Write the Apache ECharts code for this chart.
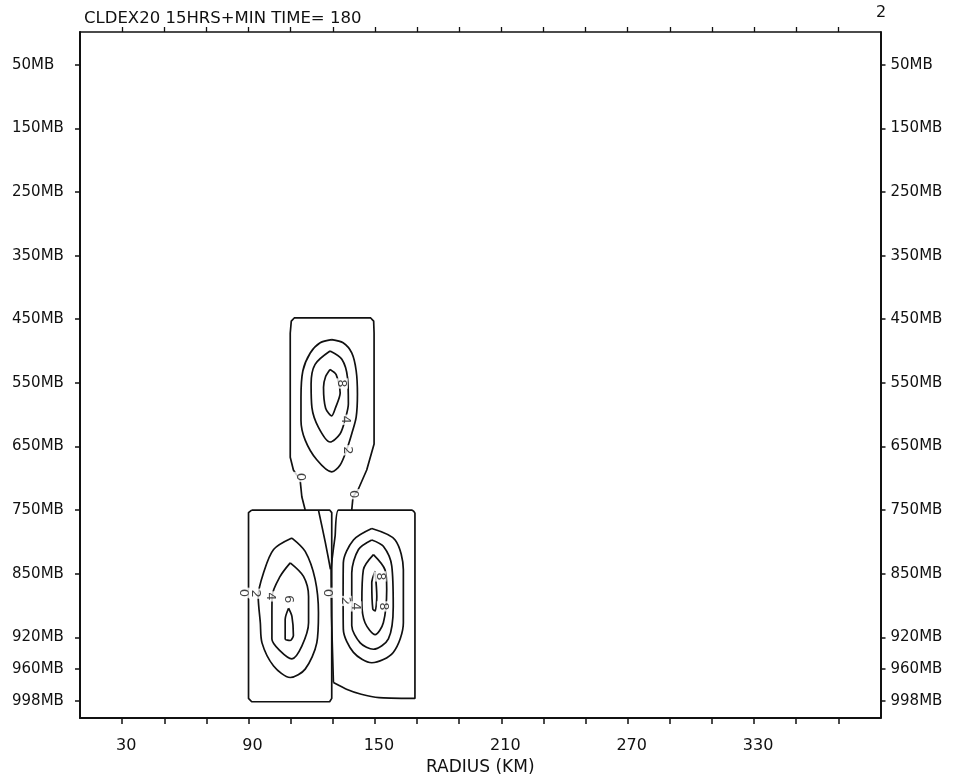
<!DOCTYPE html>
<html>
<head>
<meta charset="utf-8">
<title>CLDEX20 15HRS+MIN TIME= 180</title>
<script src="https://cdn.jsdelivr.net/npm/echarts@6/dist/echarts.min.js"></script>
<style>
  html, body { margin: 0; padding: 0; background: #fff; }
  #chart { width: 963px; height: 781px; }
</style>
</head>
<body>
<div id="chart"></div>
<script>
// Radius axis (km)
const radiusTicks = [30, 50, 70, 90, 110, 130, 150, 170, 190, 210, 230, 250, 270, 290, 310, 330, 350, 370];
const radiusLabels = [30, 90, 150, 210, 270, 330];

// Model pressure levels (mb) and their position on the vertical axis (level index)
const levelMB  = [50, 150, 250, 350, 450, 550, 650, 750, 850, 920, 960, 998];
const levelPos = [0, 1, 2, 3, 4, 5, 6, 7, 8, 9, 9.5, 10];

// Contours: [radius km, pressure mb]
const upper0 = [[116.9,750],[115.3,729],[114.5,703],[111.3,687],[109.8,667],[109.8,472],[110.3,453],[111.7,448],
                [148,448],[149.4,453],[149.6,472],[149.6,646],[146.1,687],[142,718],[139.6,729],[139,750]];
const upper2 = [[129.5,482],[134.9,487],[139.0,503],[141.1,531],[141.7,568],[141.1,604],[139.0,630],[136.7,654],
                [133.5,679],[129.5,690],[122.4,671],[116.9,640],[114.9,609],[114.9,573],[115.8,531],[119.3,503],
                [124.0,487],[129.5,482]];
const upper4 = [[128.7,500],[134.3,513],[137.0,542],[137.4,583],[135.9,607],[133.5,630],[128.7,643],[123.2,620],
                [120.1,589],[119.7,552],[121.6,521],[128.7,500]];
const upper8 = [[128.7,529],[131.6,537],[133.5,566],[131.2,590],[129.5,602],[126.6,590],[125.6,557],[126.6,540],[128.7,529]];

const leftBox0 = [[91.5,750],[128.5,750],[129.5,754],[129.5,995],[128.5,999],[91.5,999],[90,995],[90,754],[91.5,750]];
const left2 = [[110.6,794],[116.9,815],[121.6,856],[123.2,893],[122.4,927],[116.9,960],[109.8,970],[101.9,956],
               [96.4,927],[95.6,904],[94.6,875],[97.1,849],[101.9,812],[110.6,794]];
const left4 = [[109.8,833],[116.1,853],[118.5,875],[118.5,904],[115.3,931],[110.6,947],[105.0,937],[101.1,922],
               [101.1,897],[101.2,875],[105.0,853],[109.8,833]];
const left6 = [[109.0,888],[110.6,897],[111.3,918],[109.8,924],[107.4,922],[107.4,900],[109.0,888]];

const rightBox0 = [[130.3,976],[129.4,897],[129.2,844],[131.1,791],[132.7,750],[167.6,750],[169,755],[169,995],
                   [152,994],[143.5,990],[136.5,984],[130.3,976]];
const notch0 = [[123.2,750],[126.4,800],[128.9,843]];
const right2 = [[148.5,779],[159.6,797],[163.5,844],[163.5,904],[158.7,939],[148.5,952],[139.8,939],[135.0,911],
                [134.9,875],[135.0,833],[139.8,797],[148.5,779]];
const right4 = [[148.5,797],[154.0,807],[158.0,838],[158.7,886],[156.4,922],[149.3,935],[143.0,927],[139.0,907],
                [139.0,886],[139.0,849],[142.2,812],[148.5,797]];
const right6 = [[149.3,820],[154.8,844],[155.6,867],[154.0,904],[150.1,917],[145.3,904],[143.8,882],[144.5,844],[149.3,820]];
const right8 = [[150.1,846],[150.9,875],[150.1,891],[149.0,889],[148.5,860],[150.1,846]];

// Contour labels: [radius km, pressure mb, text]
const contourLabels = [
  [114.5,698,'0'],[139.6,725,'0'],[136.7,656,'2'],[135.9,608,'4'],[134.1,551,'8'],
  [87.6,871,'0'],[93.2,872,'2'],[100.3,875,'4'],[109.0,878,'6'],
  [127.2,871,'0'],[135.9,880,'2'],[140.6,886,'4'],[154.0,886,'8'],[152.4,853,'8']
];

function toLevel(mb) {
  if (mb <= levelMB[0]) return levelPos[0] - (levelMB[0] - mb) / 100;
  const n = levelMB.length;
  if (mb >= levelMB[n - 1]) return levelPos[n - 1] + (mb - levelMB[n - 1]) / 76;
  for (let i = 1; i < n; i++) {
    if (mb <= levelMB[i]) {
      const t = (mb - levelMB[i - 1]) / (levelMB[i] - levelMB[i - 1]);
      return levelPos[i - 1] + t * (levelPos[i] - levelPos[i - 1]);
    }
  }
}

const FONT = '"DejaVu Sans", sans-serif';
const ink = '#111';

const contours = [
  [upper0, 0], [upper2, 0.3], [upper4, 0.3], [upper8, 0.25],
  [leftBox0, 0], [left2, 0.3], [left4, 0.3], [left6, 0.25],
  [rightBox0, 0.15], [notch0, 0.2], [right2, 0.3], [right4, 0.3], [right6, 0.3], [right8, 0.25]
];

const series = contours.map(([pts, sm]) => ({
  type: 'line',
  data: pts.map(p => [p[0], toLevel(p[1])]),
  showSymbol: false,
  smooth: sm,
  silent: true,
  animation: false,
  lineStyle: { color: ink, width: 1.7 }
}));

series.push({
  type: 'scatter',
  data: contourLabels.map(d => ({ value: [d[0], toLevel(d[1])], name: d[2] })),
  symbolSize: 0,
  silent: true,
  animation: false,
  label: {
    show: true,
    position: 'inside',
    formatter: p => p.name,
    rotate: -90,
    color: ink,
    fontFamily: FONT,
    fontSize: 13,
    backgroundColor: '#fff',
    padding: [0, 1]
  },
  z: 5
});

const levelLabel = v => {
  const i = levelPos.indexOf(v);
  return i >= 0 ? levelMB[i] + 'MB' : '';
};

const chart = echarts.init(document.getElementById('chart'), null, { renderer: 'canvas' });
chart.setOption({
  animation: false,
  backgroundColor: '#fff',
  title: {
    text: 'CLDEX20 15HRS+MIN TIME= 180',
    left: 79, top: 5,
    textStyle: { fontFamily: FONT, fontSize: 16.5, fontWeight: 'normal', color: ink }
  },
  graphic: [{
    type: 'text', left: 876, top: 5,
    style: { text: '2', font: '16px ' + FONT, fill: ink }
  }],
  grid: { left: 80, right: 82.5, top: 32, bottom: 58, containLabel: false },
  xAxis: [{
    type: 'value', min: 10, max: 390, position: 'bottom',
    name: 'RADIUS (KM)', nameLocation: 'middle', nameGap: 38,
    nameTextStyle: { fontFamily: FONT, fontSize: 17, color: ink },
    axisLine: { show: true, onZero: false, lineStyle: { color: ink, width: 2 } },
    axisTick: { show: true, inside: false, length: 6, customValues: radiusTicks, lineStyle: { color: ink, width: 1.5 } },
    axisLabel: { show: true, customValues: radiusLabels, margin: 20, padding: [0, 0, 0, 8],
                 fontFamily: FONT, fontSize: 16, color: ink },
    splitLine: { show: false }
  }, {
    type: 'value', min: 10, max: 390, position: 'top',
    axisLine: { show: true, onZero: false, lineStyle: { color: ink, width: 1.6 } },
    axisTick: { show: true, inside: false, length: 5, customValues: radiusTicks, lineStyle: { color: ink, width: 1.3 } },
    axisLabel: { show: false },
    splitLine: { show: false }
  }],
  yAxis: [{
    type: 'value', inverse: true, min: -0.515, max: 10.27, position: 'left',
    axisLine: { show: true, onZero: false, lineStyle: { color: ink, width: 2 } },
    axisTick: { show: true, inside: false, length: 5, customValues: levelPos, lineStyle: { color: ink, width: 1.5 } },
    axisLabel: { show: true, customValues: levelPos, formatter: levelLabel, align: 'left', margin: 68,
                 fontFamily: FONT, fontSize: 15, color: ink },
    splitLine: { show: false }
  }, {
    type: 'value', inverse: true, min: -0.515, max: 10.27, position: 'right',
    axisLine: { show: true, onZero: false, lineStyle: { color: ink, width: 2 } },
    axisTick: { show: true, inside: false, length: 5, customValues: levelPos, lineStyle: { color: ink, width: 1.5 } },
    axisLabel: { show: true, customValues: levelPos, formatter: levelLabel, align: 'left', margin: 10,
                 fontFamily: FONT, fontSize: 15, color: ink },
    splitLine: { show: false }
  }],
  series: series
});
</script>
</body>
</html>
